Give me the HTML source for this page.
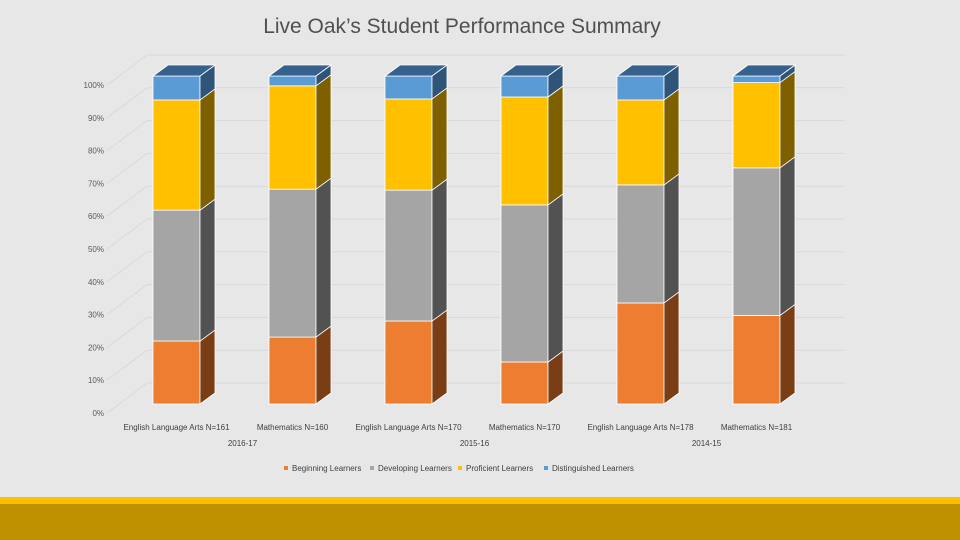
<!DOCTYPE html>
<html><head><meta charset="utf-8"><title>Live Oak Student Performance Summary</title>
<style>
html,body{margin:0;padding:0;background:#e7e7e7;}
body{width:960px;height:540px;overflow:hidden;position:relative;font-family:"Liberation Sans",sans-serif;}
#title{position:absolute;top:15px;left:0;width:924px;text-align:center;font-size:21px;color:#505050;}
#stripe{position:absolute;left:0;top:497px;width:960px;height:7px;background:#fcc000;}
#band{position:absolute;left:0;top:504px;width:960px;height:36px;background:#bf9000;}
svg{position:absolute;left:0;top:0;}
</style></head><body>
<div id="title">Live Oak’s Student Performance Summary</div>
<svg id="chart" width="960" height="500"></svg>
<div id="stripe"></div>
<div id="band"></div>
<script>
const categories = ["English Language Arts N=161","Mathematics N=160","English Language Arts N=170","Mathematics N=170","English Language Arts N=178","Mathematics N=181"];
const groups = ["2016-17","2015-16","2014-15"];
const beginning = [19.2, 20.4, 25.3, 12.8, 30.8, 27];
const developing = [39.9, 45.1, 39.9, 47.9, 36, 45];
const proficient = [33.6, 31.5, 27.8, 32.9, 25.9, 26];
const distinguished = [7.3, 3, 7, 6.4, 7.3, 2];
const seriesNames = ["Beginning Learners","Developing Learners","Proficient Learners","Distinguished Learners"];
const yTicks = [0,10,20,30,40,50,60,70,80,90,100];

const NS="http://www.w3.org/2000/svg";
const svg=document.getElementById('chart');
const front=["#ed7d31","#a5a5a5","#ffc000","#5b9bd5"];
const side=["#7a3e17","#525252","#7f6000","#2e5477"];
const topc=["#b4591f","#6e6e6e","#b38700","#36618c"];
const y0=404, yScale=3.28, x0=153, step=116, bw=47, dx=15, dy=-11;
function Y(v){return y0 - v*yScale;}
function X(i){return x0 + i*step;}
function el(tag,attrs,parent){const e=document.createElementNS(NS,tag);for(const k in attrs)e.setAttribute(k,attrs[k]);(parent||svg).appendChild(e);return e;}

yTicks.forEach(t=>{
  const fy=Y(t)+9, by=fy-30;
  const g=el('line',{x1:147,y1:by,x2:845,y2:by,stroke:"#d9d9d9","stroke-width":1});
  
  
  const s=el('line',{x1:107,y1:fy,x2:147,y2:by,stroke:"#d9d9d9","stroke-width":1});
  
  
  const tx=el('text',{x:104,y:fy+3,"text-anchor":"end","font-size":8,fill:"#595959"});
  tx.textContent=t+"%";
  
  
});

const series=[beginning,developing,proficient,distinguished];
categories.forEach((c,i)=>{
  const x=X(i);
  let cum=0;
  const g=el('g',{});
  
  
  series.forEach((arr,s)=>{
    const a=cum, b=cum+arr[i]; cum=b;
    const yb=Y(a), yt=Y(b);
    const r=el('rect',{x:x,y:yt,width:bw,height:yb-yt,fill:front[s],stroke:"#ffffff","stroke-width":0.8},g);
    
    
    el('polygon',{points:`${x+bw},${yb} ${x+bw+dx},${yb+dy} ${x+bw+dx},${yt+dy} ${x+bw},${yt}`,fill:side[s],stroke:"#ffffff","stroke-width":0.8},g);
    if(s===series.length-1){
      el('polygon',{points:`${x},${yt} ${x+dx},${yt+dy} ${x+bw+dx},${yt+dy} ${x+bw},${yt}`,fill:topc[s],stroke:"#ffffff","stroke-width":0.8},g);
    }
  });
  const t=el('text',{x:x+bw/2,y:430,"text-anchor":"middle","font-size":8,fill:"#404040"});
  t.textContent=c;
  
  
});
groups.forEach((gname,j)=>{
  const cx=(X(2*j)+X(2*j+1)+bw)/2+8;
  const t=el('text',{x:cx,y:446,"text-anchor":"middle","font-size":8,fill:"#404040"});
  t.textContent=gname;
  
  
});
const lx=[284,370,458,544];
seriesNames.forEach((n,s)=>{
  const r=el('rect',{x:lx[s],y:466,width:4,height:4,fill:front[s]});
  
  
  const t=el('text',{x:lx[s]+8,y:471,"font-size":8,fill:"#404040"});
  t.textContent=n;
  
  
});
</script>
</body></html>
